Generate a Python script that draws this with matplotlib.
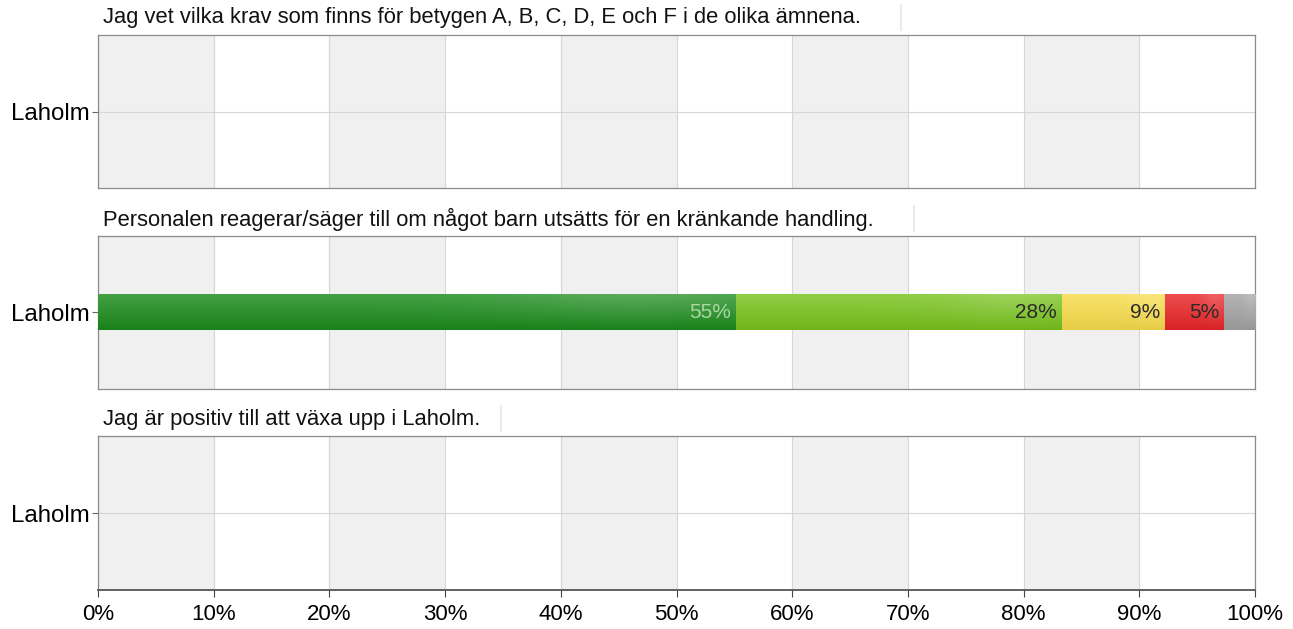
import matplotlib.pyplot as plt
import matplotlib.colors as mcolors
import numpy as np

plt.rcParams['font.family'] = ['Liberation Sans', 'DejaVu Sans']

questions = ['Jag vet vilka krav som finns för betygen A, B, C, D, E och F i de olika ämnena.',
             'Personalen reagerar/säger till om något barn utsätts för en kränkande handling.',
             'Jag är positiv till att växa upp i Laholm.']
groups = ['Laholm']
# share of answers per question (empty = no data)
values = [[],
          [55.1, 28.2, 8.9, 5.1, 2.7],
          []]
seg_colors = ['#1b8b1b', '#78c31c', '#f8dc4a', '#e92528', '#a3a3a3']
label_colors = ['#a8d6a4', '#2a2a2a', '#2a2a2a', '#2a2a2a', None]
xticks = np.arange(0, 101, 10)

W, H = 1293, 629
fig = plt.figure(figsize=(W / 100, H / 100), dpi=100)
panels = [(35, 188), (236, 389), (436, 590)]
left, right = 98, 1255

for i, (top, bot) in enumerate(panels):
    ax = fig.add_axes([left / W, 1 - bot / H, (right - left) / W, (bot - top) / H])
    ax.set_xlim(0, 100)
    ax.set_ylim(-1, 1)
    for k in range(0, 100, 20):
        ax.axvspan(k, k + 10, color='#f0f0f0', zorder=0, lw=0)
    for k in xticks:
        ax.axvline(k, color='#d6d6d6', lw=0.8, zorder=1)
    ax.axhline(0, color='#d6d6d6', lw=0.8, zorder=1)
    ax.set_yticks([0])
    ax.set_yticklabels(groups, fontsize=17.3)
    ax.tick_params(axis='y', length=4, color='#666666', pad=2)
    ax.set_xticks(xticks)
    if i < 2:
        ax.tick_params(axis='x', length=0, labelbottom=False)
    else:
        ax.set_xticklabels([f'{k}%' for k in xticks], fontsize=16)
        ax.tick_params(axis='x', length=5, color='#444444', pad=5)
    for s in ax.spines.values():
        s.set_color('#8a8a8a')
        s.set_linewidth(0.9)
    if i == 2:
        ax.spines['bottom'].set_color('#555555')
        ax.spines['bottom'].set_linewidth(1.3)

    # stacked bar with a soft gloss
    h = 0.46
    x0 = 0
    for j, v in enumerate(values[i]):
        base = np.array(mcolors.to_rgb(seg_colors[j]))
        n = 40
        t = np.linspace(0, 1, n)[:, None]
        light = base + (1 - base) * 0.18
        dark = base * 0.93
        col = light * (1 - t) + dark * t
        xs = np.linspace(0, 1, 60)[None, :]
        glow = np.exp(-((xs - 0.85) ** 2) / 0.04) * (1 - t) * 0.12
        img = np.clip(col[:, None, :] + (1 - col[:, None, :]) * glow[:, :, None], 0, 1)
        ax.imshow(img, extent=[x0, x0 + v, -h / 2, h / 2], origin='upper',
                  aspect='auto', zorder=3, interpolation='bilinear')
        if label_colors[j] is not None:
            ax.text(x0 + v - 0.4, 0, f'{v:.0f}%', ha='right', va='center',
                    fontsize=15, color=label_colors[j], zorder=4)
        x0 += v
    ax.set_xlim(0, 100)
    ax.set_ylim(-1, 1)

    fig.text((left + 5) / W, 1 - (top - 17) / H, questions[i], fontsize=15.8,
             ha='left', va='center', color='#111111')

fig.canvas.draw()
renderer = fig.canvas.get_renderer()
for i, (top, bot) in enumerate(panels):
    bb = fig.texts[i].get_window_extent(renderer)
    xr = bb.x1 + 0.05 * bb.width + 2
    fig.add_artist(plt.Line2D([xr / W, xr / W], [1 - (top - 5) / H, 1 - (top - 30) / H],
                              color='#ebebeb', lw=1.5, transform=fig.transFigure))

fig.savefig('out.png', dpi=100)
